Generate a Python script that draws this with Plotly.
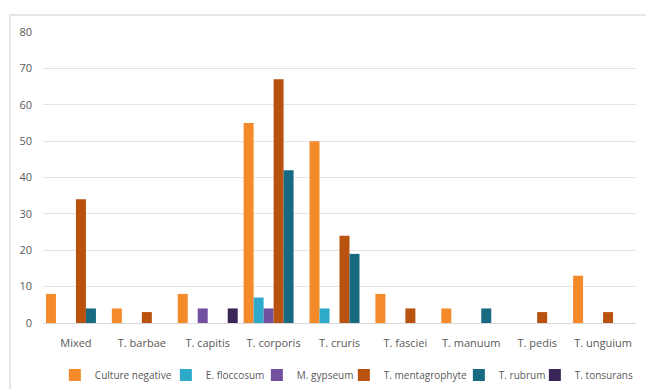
import plotly.graph_objects as go

categories = ["Mixed", "T. barbae", "T. capitis", "T. corporis", "T. cruris",
              "T. fasciei", "T. manuum", "T. pedis", "T. unguium"]

culture_negative = [8, 4, 8, 55, 50, 8, 4, 0, 13]
e_floccosum = [0, 0, 0, 7, 4, 0, 0, 0, 0]
m_gypseum = [0, 0, 4, 4, 0, 0, 0, 0, 0]
t_mentagrophyte = [34, 3, 0, 67, 24, 4, 0, 3, 3]
t_rubrum = [4, 0, 0, 42, 19, 0, 4, 0, 0]
t_tonsurans = [0, 0, 4, 0, 0, 0, 0, 0, 0]

series_names = ["Culture negative", "E. floccosum", "M. gypseum",
                "T. mentagrophyte", "T. rubrum", "T. tonsurans"]
series_values = [culture_negative, e_floccosum, m_gypseum,
                 t_mentagrophyte, t_rubrum, t_tonsurans]
colors = ["#F58A2B", "#2FA9C9", "#7150A0", "#B8520E", "#176A80", "#3A2656"]
legend_widths = [66, 46, 42, 70, 31, 62]

y_ticks = [0, 10, 20, 30, 40, 50, 60, 70, 80]

fig = go.Figure()
for name, vals, col, lw in zip(series_names, series_values, colors, legend_widths):
    fig.add_trace(go.Bar(name=name, x=categories, y=vals, marker_color=col,
                         marker_line_width=0, legendwidth=lw))

font = "'Open Sans', sans-serif"
fig.update_layout(
    width=646, height=389,
    margin=dict(l=43, r=10, t=32, b=66),
    paper_bgcolor="white", plot_bgcolor="white",
    barmode="group", bargap=0.09, bargroupgap=0,
    font=dict(family=font, size=11, color="#595959"),
    showlegend=True,
    legend=dict(orientation="h", x=0.02, xanchor="left",
                yref="container", y=0.036, yanchor="middle",
                font=dict(size=10, color="#595959"),
                itemwidth=30, tracegroupgap=0),
    xaxis=dict(showgrid=False, showline=True, linecolor="#D9D9D9",
               linewidth=1, ticks="", tickfont=dict(size=11),
               ticklabelstandoff=10),
    yaxis=dict(range=[0, 80], tickvals=y_ticks, showgrid=True,
               gridcolor="#E3E3E3", gridwidth=1, zeroline=False,
               ticks="", tickfont=dict(size=11), ticklabelstandoff=10),
    shapes=[dict(type="rect", xref="paper", yref="paper",
                 x0=-0.0556, x1=1.02, y0=-0.25, y1=1.058,
                 line=dict(color="#E6E6E6", width=2), fillcolor="rgba(0,0,0,0)",
                 layer="below")],
)

fig.write_html("out.html")
